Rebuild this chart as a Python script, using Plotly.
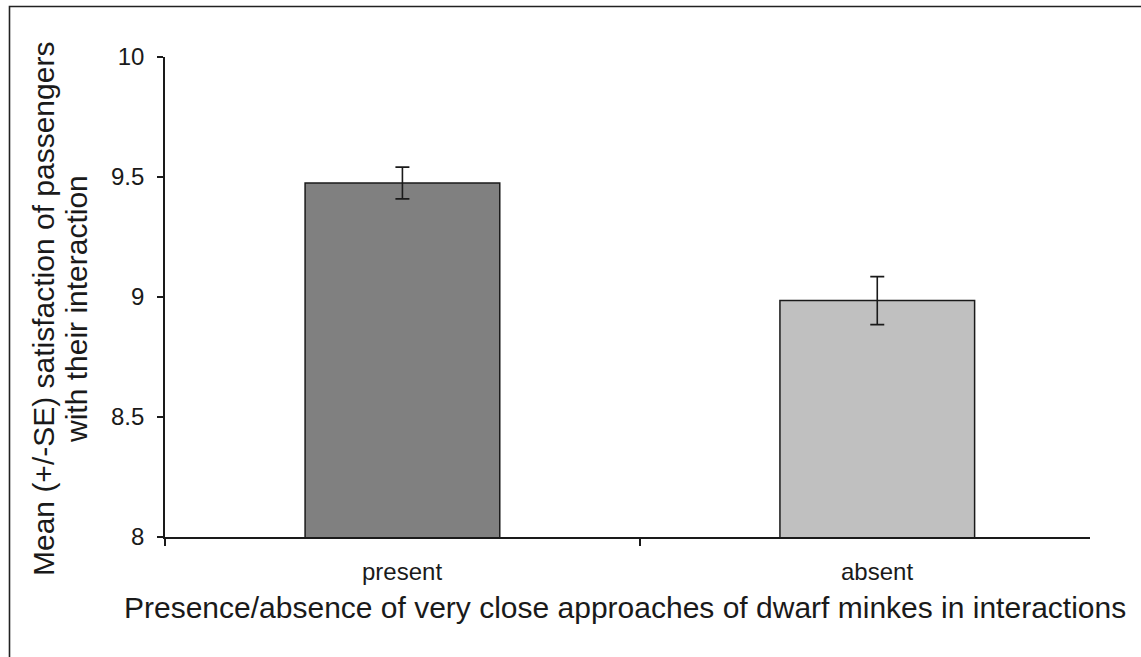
import plotly.graph_objects as go

# Mean satisfaction scores with standard errors
categories = ["present", "absent"]
mean_satisfaction = [9.475, 8.985]
std_error = [0.066, 0.10]
bar_colors = ["#808080", "#c0c0c0"]

W, H = 1141, 657
L, R, T, B = 165, 51, 57, 120
pw, ph = W - L - R, H - T - B

def px_x(x):
    return (x - L) / pw

def px_y(y):
    return (H - B - y) / ph

font_family = "Liberation Sans, Arial, sans-serif"
ink = "#1a1a1a"

fig = go.Figure()
fig.add_trace(go.Bar(
    x=list(range(len(categories))),
    y=mean_satisfaction,
    base=0,
    width=0.41,
    marker=dict(color=bar_colors, line=dict(color=ink, width=1.5)),
    error_y=dict(type="data", array=std_error, visible=True,
                 color=ink, thickness=1.6, width=7),
    showlegend=False,
))

annotations = []
for i, c in enumerate(categories):
    annotations.append(dict(x=i, xref="x", y=px_y(571), yref="paper",
                            text=c, showarrow=False, xanchor="center", yanchor="middle",
                            font=dict(family=font_family, size=24, color=ink)))

annotations.append(dict(
    x=px_x(625), xref="paper", y=px_y(607), yref="paper",
    text="Presence/absence of very close approaches of dwarf minkes in interactions",
    showarrow=False, xanchor="center", yanchor="middle",
    font=dict(family=font_family, size=30, color=ink)))
annotations.append(dict(
    x=px_x(43), xref="paper", y=px_y(309), yref="paper",
    text="Mean (+/-SE) satisfaction of passengers", textangle=-90,
    showarrow=False, xanchor="center", yanchor="middle",
    font=dict(family=font_family, size=30, color=ink)))
annotations.append(dict(
    x=px_x(76), xref="paper", y=px_y(309), yref="paper",
    text="with their interaction", textangle=-90,
    showarrow=False, xanchor="center", yanchor="middle",
    font=dict(family=font_family, size=30, color=ink)))

fig.update_layout(
    width=W, height=H,
    margin=dict(l=L, r=R, t=T, b=B),
    paper_bgcolor="white", plot_bgcolor="white",
    font=dict(family=font_family, color=ink),
    xaxis=dict(range=[-0.5, 1.448], tickvals=[-0.5, 0.5], ticktext=["", ""],
               ticks="outside", ticklen=7, tickwidth=1.6, tickcolor=ink,
               showline=True, linecolor=ink, linewidth=1.6,
               showgrid=False, zeroline=False),
    yaxis=dict(range=[8, 10], tickvals=[8, 8.5, 9, 9.5, 10],
               ticktext=["8", "8.5", "9", "9.5", "10"],
               ticks="outside", ticklen=6, tickwidth=1.6, tickcolor=ink,
               ticklabelstandoff=8,
               tickfont=dict(family=font_family, size=24, color=ink),
               showline=True, linecolor=ink, linewidth=1.6,
               showgrid=False, zeroline=False),
    annotations=annotations,
    shapes=[dict(type="path", xref="paper", yref="paper",
                 path=f"M {px_x(9.5)},{px_y(H + 20)} L {px_x(9.5)},{px_y(6.5)} L {px_x(W + 20)},{px_y(6.5)}",
                 line=dict(color="#222222", width=1.6))],
)

fig.write_html("out.html")
